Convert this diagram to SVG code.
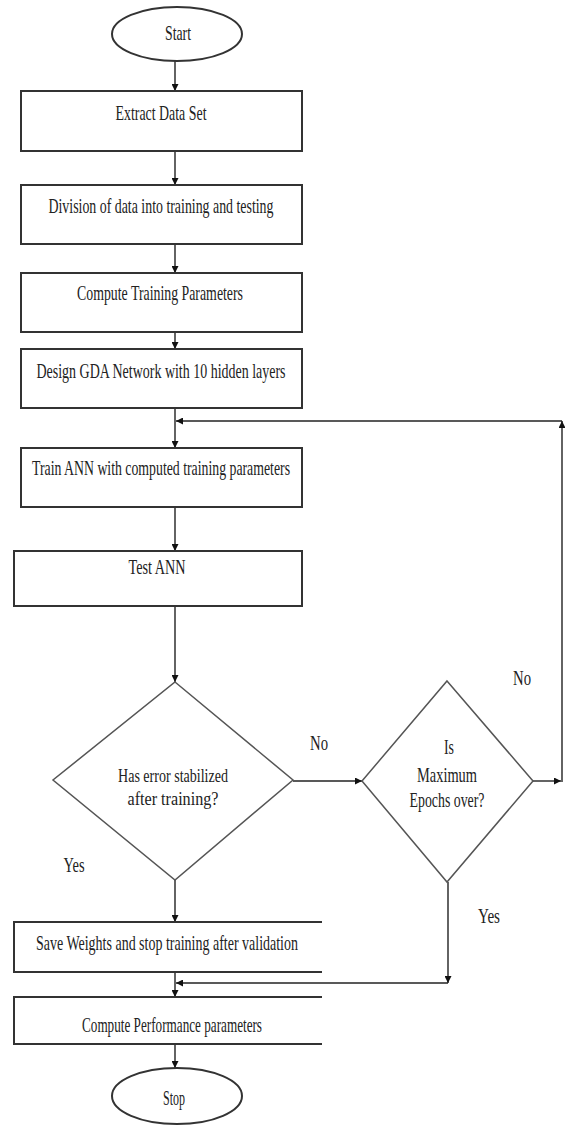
<svg xmlns="http://www.w3.org/2000/svg" width="565" height="1126" viewBox="0 0 565 1126">
<style>
.shape{fill:#fff;stroke:#333;stroke-width:2}
.dia{fill:#fff;stroke:#555;stroke-width:1.5}
.open{fill:none;stroke:#333;stroke-width:2}
.conn{fill:none;stroke:#222;stroke-width:1.4}
text{font-family:"Liberation Serif","Times New Roman",serif;font-size:22px;fill:#222;text-anchor:middle}
text.sm{font-size:19.5px}
</style>
<defs>
<marker id="arr" viewBox="0 0 10 10" refX="10" refY="5" markerWidth="7" markerHeight="7" markerUnits="userSpaceOnUse" orient="auto">
<path d="M0,0 L10,5 L0,10 z" fill="#111"/>
</marker>
</defs>
<rect width="565" height="1126" fill="#fff"/>
<g id="connectors">
<line class="conn" x1="175" y1="61" x2="175" y2="91" marker-end="url(#arr)"/>
<line class="conn" x1="175" y1="151" x2="175" y2="185" marker-end="url(#arr)"/>
<line class="conn" x1="175" y1="244" x2="175" y2="273" marker-end="url(#arr)"/>
<line class="conn" x1="175" y1="332" x2="175" y2="349" marker-end="url(#arr)"/>
<line class="conn" x1="175" y1="408" x2="175" y2="448" marker-end="url(#arr)"/>
<line class="conn" x1="562" y1="421" x2="176" y2="421" marker-end="url(#arr)"/>
<line class="conn" x1="175" y1="507" x2="175" y2="551" marker-end="url(#arr)"/>
<line class="conn" x1="175" y1="606" x2="175" y2="682" marker-end="url(#arr)"/>
<line class="conn" x1="293" y1="781" x2="362" y2="781" marker-end="url(#arr)"/>
<line class="conn" x1="533" y1="781" x2="561" y2="781" marker-end="url(#arr)"/>
<line class="conn" x1="562" y1="782" x2="562" y2="421" marker-end="url(#arr)"/>
<line class="conn" x1="175" y1="880" x2="175" y2="922" marker-end="url(#arr)"/>
<line class="conn" x1="448" y1="882" x2="448" y2="983" marker-end="url(#arr)"/>
<line class="conn" x1="448" y1="983" x2="176" y2="983" marker-end="url(#arr)"/>
<line class="conn" x1="175" y1="972" x2="175" y2="997" marker-end="url(#arr)"/>
<line class="conn" x1="175" y1="1044" x2="175" y2="1068" marker-end="url(#arr)"/>
</g>
<g id="start"><ellipse class="shape" cx="177" cy="34" rx="65" ry="27"/><text x="178" y="40" textLength="26" lengthAdjust="spacingAndGlyphs">Start</text></g>
<g id="extract"><rect class="shape" x="21" y="91" width="281" height="60"/><text x="161" y="120" textLength="91" lengthAdjust="spacingAndGlyphs">Extract Data Set</text></g>
<g id="division"><rect class="shape" x="21" y="185" width="281" height="59"/><text x="161" y="213" textLength="225" lengthAdjust="spacingAndGlyphs">Division of data into training and testing</text></g>
<g id="compute-training"><rect class="shape" x="21" y="273" width="281" height="59"/><text x="160" y="300" textLength="166" lengthAdjust="spacingAndGlyphs">Compute Training Parameters</text></g>
<g id="design"><rect class="shape" x="21" y="349" width="281" height="59"/><text x="161" y="378" textLength="249" lengthAdjust="spacingAndGlyphs">Design GDA Network with 10 hidden layers</text></g>
<g id="train"><rect class="shape" x="21" y="448" width="281" height="59"/><text x="161" y="475" textLength="258" lengthAdjust="spacingAndGlyphs">Train ANN with computed training parameters</text></g>
<g id="test"><rect class="shape" x="14" y="551" width="288" height="55"/><text x="157" y="574" textLength="57" lengthAdjust="spacingAndGlyphs">Test ANN</text></g>
<g id="decision-error"><polygon class="dia" points="175,682 293,780 175,880 53,780"/><text class="sm" x="173" y="782" textLength="110" lengthAdjust="spacingAndGlyphs">Has error stabilized</text><text class="sm" x="173" y="805" textLength="91" lengthAdjust="spacingAndGlyphs">after training?</text></g>
<g id="decision-epochs"><polygon class="dia" points="447,681 533,781 447,882 362,781"/><text x="449" y="754" textLength="10" lengthAdjust="spacingAndGlyphs">Is</text><text x="447" y="782" textLength="60" lengthAdjust="spacingAndGlyphs">Maximum</text><text x="447" y="807" textLength="75" lengthAdjust="spacingAndGlyphs">Epochs over?</text></g>
<g id="save"><path class="open" d="M322,922 H14 V972 H322"/><text x="167" y="950" textLength="262" lengthAdjust="spacingAndGlyphs">Save Weights and stop training after validation</text></g>
<g id="compute-performance"><path class="open" d="M322,997 H14 V1044 H322"/><text x="172" y="1032" textLength="180" lengthAdjust="spacingAndGlyphs">Compute Performance parameters</text></g>
<g id="stop"><ellipse class="shape" cx="177" cy="1096" rx="65" ry="28"/><text x="174" y="1105" textLength="22" lengthAdjust="spacingAndGlyphs">Stop</text></g>
<g id="labels">
<text x="319" y="750" textLength="18" lengthAdjust="spacingAndGlyphs">No</text>
<text x="74" y="872" textLength="21" lengthAdjust="spacingAndGlyphs">Yes</text>
<text x="522" y="685" textLength="18" lengthAdjust="spacingAndGlyphs">No</text>
<text x="489" y="923" textLength="22" lengthAdjust="spacingAndGlyphs">Yes</text>
</g>
</svg>
